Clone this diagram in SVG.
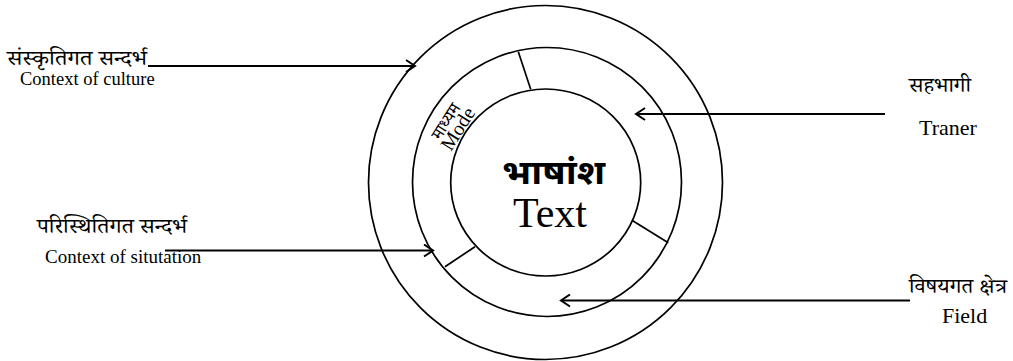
<svg xmlns="http://www.w3.org/2000/svg" width="1013" height="361" viewBox="0 0 1013 361">
<style>
  .ring{fill:none;stroke:#000;stroke-width:1.7}
  .div{stroke:#000;stroke-width:1.7}
  .arr{fill:none;stroke:#000;stroke-width:2.2}
  .en{font-family:"Liberation Serif","Times New Roman",serif;fill:#000}
  .hi{font-family:"Noto Serif Devanagari","Noto Sans Devanagari","Lohit Devanagari","FreeSerif","Noto Sans",serif;fill:#000}
  .hib{font-family:"Noto Sans Devanagari","Noto Serif Devanagari","Lohit Devanagari","FreeSans","Noto Sans",sans-serif;font-weight:bold;fill:#000}
</style>
<defs>
  <marker id="ah" markerWidth="12" markerHeight="14" refX="10" refY="7" orient="auto" markerUnits="userSpaceOnUse">
    <path d="M1,1 L10,7 L1,13" fill="none" stroke="#000" stroke-width="2"/>
  </marker>
</defs>
<rect width="1013" height="361" fill="#fff"/>
<g id="outer-ring">
  <circle class="ring" cx="545.5" cy="182.5" r="177"/>
</g>
<g id="middle-ring">
  <circle class="ring" cx="547" cy="182" r="134.5"/>
  <line class="div" x1="518.3" y1="51.7" x2="530.7" y2="89.3"/>
  <line class="div" x1="632.7" y1="220.7" x2="668.3" y2="242.7"/>
  <line class="div" x1="475" y1="246.7" x2="445" y2="266.7"/>
  <g transform="translate(455,127) rotate(-58)">
    <text class="hi" x="0" y="-5" font-size="17" text-anchor="middle">माध्यम</text>
    <text class="en" x="0" y="10" font-size="20" text-anchor="middle">Mode</text>
  </g>
</g>
<g id="inner-text">
  <ellipse class="ring" cx="545.7" cy="182.5" rx="95" ry="93.5"/>
  <text class="hib" x="502" y="184" font-size="34" textLength="103" lengthAdjust="spacingAndGlyphs">भाषांश</text>
  <text class="en" x="550" y="227" font-size="42" text-anchor="middle">Text</text>
</g>
<g id="culture">
  <text class="hi" x="7" y="65" font-size="20" textLength="140" lengthAdjust="spacingAndGlyphs">संस्कृतिगत सन्दर्भ</text>
  <text class="en" x="20" y="85" font-size="18.5">Context of culture</text>
</g>
<g id="situation">
  <text class="hi" x="37" y="233" font-size="20" textLength="150" lengthAdjust="spacingAndGlyphs">परिस्थितिगत सन्दर्भ</text>
  <text class="en" x="45" y="263" font-size="19">Context of situtation</text>
</g>
<g id="participant">
  <text class="hi" x="909" y="92" font-size="20" textLength="62" lengthAdjust="spacingAndGlyphs">सहभागी</text>
  <text class="en" x="919" y="135" font-size="22">Traner</text>
</g>
<g id="field">
  <text class="hi" x="909" y="293" font-size="20" textLength="98" lengthAdjust="spacingAndGlyphs">विषयगत क्षेत्र</text>
  <text class="en" x="942" y="323" font-size="22">Field</text>
</g>
<g id="connectors">
  <line class="arr" x1="148" y1="66" x2="415" y2="66" marker-end="url(#ah)"/>
  <line class="arr" x1="165" y1="250.5" x2="433" y2="250.5" marker-end="url(#ah)"/>
  <line class="arr" x1="885" y1="114" x2="636" y2="114" marker-end="url(#ah)"/>
  <line class="arr" x1="910" y1="300.5" x2="561" y2="300.5" marker-end="url(#ah)"/>
</g>
</svg>
